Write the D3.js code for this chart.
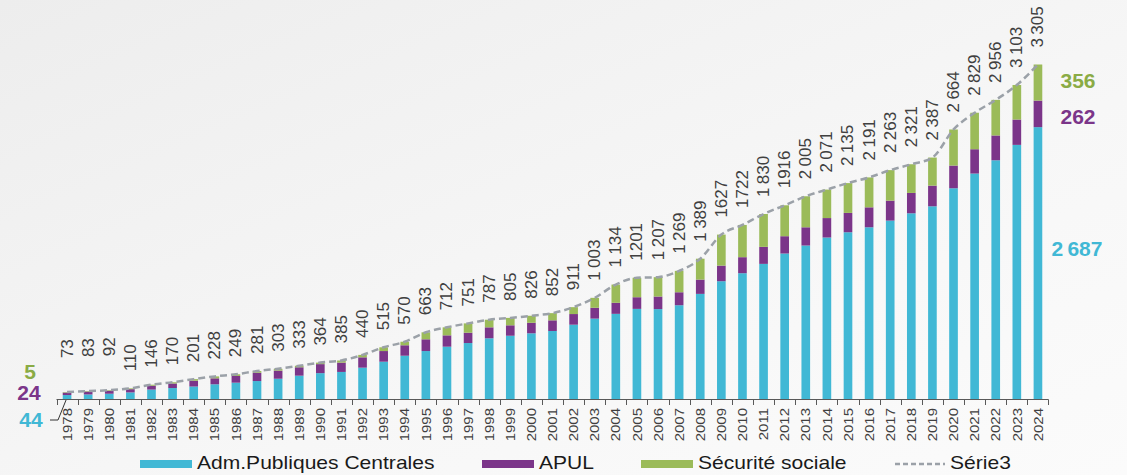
<!DOCTYPE html>
<html>
<head>
<meta charset="utf-8">
<script src="https://cdn.jsdelivr.net/npm/d3@7"></script>
<style>
  body { margin: 0; background: #f3f3f3; }
  svg { display: block; font-family: "Liberation Sans", Arial, sans-serif; }
</style>
</head>
<body>
<svg id="chart" width="1127" height="475"></svg>
<script>
// dette publique par sous-secteur, Md€
const years = d3.range(1978, 2025);
const apuc = [44, 50, 57, 70, 98, 113, 128, 150, 166, 182, 205, 235, 260, 272, 314, 373, 432, 478, 521, 557,
  604, 629, 653, 676, 738, 798, 845, 894, 892, 930, 1042, 1167, 1246, 1338, 1440, 1519, 1598, 1650, 1699,
  1765, 1837, 1906, 2084, 2229, 2360, 2512, 2687];
const apul = [24, 28, 29, 32, 38, 45, 57, 59, 66, 82, 80, 83, 89, 92, 102, 105, 103, 116, 112, 102,
  108, 103, 104, 105, 105, 107, 109, 115, 124, 128, 141, 154, 158, 168, 171, 180, 192, 191, 197,
  197, 201, 204, 224, 240, 245, 250, 262];
const asso = [5, 5, 6, 8, 10, 12, 16, 19, 17, 17, 18, 15, 15, 21, 24, 37, 35, 69, 79, 92,
  75, 73, 69, 71, 68, 98, 180, 192, 191, 211, 206, 306, 318, 324, 305, 306, 281, 294, 295,
  301, 283, 277, 356, 360, 351, 341, 356];
const totals = [73, 83, 92, 110, 146, 170, 201, 228, 249, 281, 303, 333, 364, 385, 440, 515, 570, 663, 712, 751,
  787, 805, 826, 852, 911, 1003, 1134, 1201, 1207, 1269, 1389, 1627, 1722, 1830, 1916, 2005, 2071, 2135, 2191,
  2263, 2321, 2387, 2664, 2829, 2956, 3103, 3305];
const noSpace = [1201, 1627, 1722, 1916]; // labels written without the separator
const seriesNames = ["Adm.Publiques Centrales", "APUL", "Sécurité sociale"];
const colors = ["#41b8d5", "#7b3589", "#9bbb59"];

const svg = d3.select("#chart");

// fond gris clair
const defs = svg.append("defs");
const grad = defs.append("linearGradient").attr("id", "bg")
  .attr("x1", 0).attr("y1", 0).attr("x2", 1).attr("y2", 1);
grad.append("stop").attr("offset", "0%").attr("stop-color", "#ededed");
grad.append("stop").attr("offset", "60%").attr("stop-color", "#f7f7f7");
grad.append("stop").attr("offset", "100%").attr("stop-color", "#fbfbfb");
svg.append("rect").attr("width", 1127).attr("height", 475).attr("fill", "url(#bg)");

const x = d3.scaleBand().domain(years).range([56.5, 1048.5]).paddingInner(0).paddingOuter(0);
const y = d3.scaleLinear().domain([0, d3.max(totals)]).range([399.5, 64.5]);
const cx = yr => x(yr) + x.bandwidth() / 2;
const barW = x.bandwidth() * 0.41;

const rows = years.map((yr, i) => ({ year: yr, apuc: apuc[i], apul: apul[i], asso: asso[i], total: totals[i] }));
const stack = d3.stack().keys(["apuc", "apul", "asso"])(rows);

svg.append("g").selectAll("g").data(stack).join("g")
  .attr("fill", (d, i) => colors[i])
  .selectAll("rect").data(d => d).join("rect")
  .attr("x", d => cx(d.data.year) - barW / 2)
  .attr("width", barW)
  .attr("y", d => y(d[1]))
  .attr("height", d => y(d[0]) - y(d[1]));

// total line (Série3)
svg.append("path")
  .datum(rows)
  .attr("fill", "none")
  .attr("stroke", "#9ba1a8")
  .attr("stroke-width", 2.5)
  .attr("stroke-dasharray", "7,4")
  .attr("d", d3.line().x(d => cx(d.year)).y(d => y(d.total)).curve(d3.curveMonotoneX));

// axe
const axis = svg.append("g");
axis.append("line").attr("x1", 56.5).attr("x2", 1048.5).attr("y1", 399.5).attr("y2", 399.5)
  .attr("stroke", "#595959").attr("stroke-width", 1);
axis.selectAll(".tk").data(years.concat([2025])).join("line")
  .attr("x1", d => d === 2025 ? 1048.5 : Math.round(x(d)) + 0.5)
  .attr("x2", d => d === 2025 ? 1048.5 : Math.round(x(d)) + 0.5)
  .attr("y1", 399.5).attr("y2", 405)
  .attr("stroke", "#595959");
axis.selectAll("text").data(years).join("text")
  .attr("transform", d => `translate(${cx(d)},408) rotate(-90) scale(1,0.88)`)
  .attr("text-anchor", "end")
  .attr("dominant-baseline", "central")
  .attr("font-size", 15)
  .attr("fill", "#404040")
  .text(d => d);

// étiquettes des totaux
const fmt = d3.formatLocale({ thousands: "\u2009", grouping: [3], decimal: ",", currency: ["", ""] }).format(",d");
svg.append("g").selectAll("text").data(rows).join("text")
  .attr("transform", (d, i) => `translate(${cx(d.year)},${y(d.total) - (i < 3 ? 34 : 17)}) rotate(-90)`)
  .attr("text-anchor", "start")
  .attr("dominant-baseline", "central")
  .attr("font-size", 17)
  .attr("fill", "#404040")
  .text(d => noSpace.includes(d.total) ? String(d.total) : fmt(d.total));

// annotations gauche / droite
const first = rows[0], last = rows[rows.length - 1];
const notes = [
  { t: fmt(first.apuc), x: 31, y: 419, c: colors[0] },
  { t: fmt(first.apul), x: 29, y: 392, c: colors[1] },
  { t: fmt(first.asso), x: 30, y: 371, c: "#8aab45" },
  { t: fmt(last.asso), x: 1078, y: 80, c: "#8aab45" },
  { t: fmt(last.apul), x: 1078, y: 116, c: colors[1] },
  { t: fmt(last.apuc), x: 1077, y: 248, c: colors[0] }
];
svg.append("g").selectAll("text").data(notes).join("text")
  .attr("x", d => d.x).attr("y", d => d.y)
  .attr("text-anchor", "middle")
  .attr("dominant-baseline", "central")
  .attr("font-size", 21)
  .attr("font-weight", "bold")
  .attr("fill", d => d.c)
  .text(d => d.t);

svg.append("polyline")
  .attr("points", `50,420 58,420 ${cx(1978) - 1},400`)
  .attr("fill", "none").attr("stroke", "#333").attr("stroke-width", 1);

// légende
const leg = svg.append("g");
const legItems = [
  { name: seriesNames[0], x: 140, c: colors[0] },
  { name: seriesNames[1], x: 482, c: colors[1] },
  { name: seriesNames[2], x: 641, c: colors[2] }
];
legItems.forEach(d => {
  leg.append("rect").attr("x", d.x).attr("y", 460).attr("width", 52).attr("height", 8).attr("fill", d.c);
  leg.append("text").attr("transform", `translate(${d.x + 57},469) scale(1.17,1)`)
    .attr("font-size", 18).attr("fill", "#1a1a1a").text(d.name);
});
leg.append("line").attr("x1", 895).attr("x2", 945).attr("y1", 464).attr("y2", 464)
  .attr("stroke", "#9ba1a8").attr("stroke-width", 2.5).attr("stroke-dasharray", "5,3");
leg.append("text").attr("transform", "translate(950,469) scale(1.17,1)")
  .attr("font-size", 18).attr("fill", "#1a1a1a").text("Série3");
</script>
</body>
</html>
